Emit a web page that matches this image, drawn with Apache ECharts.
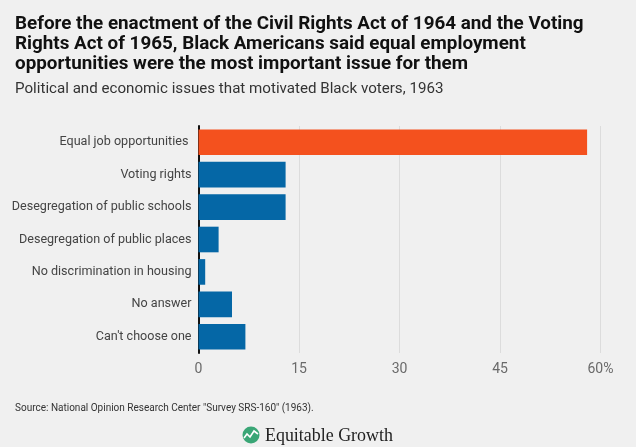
<!DOCTYPE html>
<html>
<head>
<meta charset="utf-8">
<script src="https://cdn.jsdelivr.net/npm/echarts@6/dist/echarts.min.js"></script>
<style>
html,body{margin:0;padding:0;background:#f0f0f0;}
#c{width:636px;height:447px;}
</style>
</head>
<body>
<div id="c"></div>
<script>
var categories = [
  'Equal job opportunities ',
  'Voting rights',
  'Desegregation of public schools',
  'Desegregation of public places',
  'No discrimination in housing',
  'No answer',
  "Can't choose one"
];
var values = [58, 13, 13, 3, 1, 5, 7];
var barColors = ['#f4511e', '#0567a6', '#0567a6', '#0567a6', '#0567a6', '#0567a6', '#0567a6'];
var tickValues = [0, 15, 30, 45, 60];
var tickLabels = ['0', '15', '30', '45', '60%'];
var titleLines = [
  'Before the enactment of the Civil Rights Act of 1964 and the Voting',
  'Rights Act of 1965, Black Americans said equal employment',
  'opportunities were the most important issue for them'
];
var subtitle = 'Political and economic issues that motivated Black voters, 1963';
var source = 'Source: National Opinion Research Center "Survey SRS-160" (1963).';
var brand = 'Equitable Growth';

var sans = 'Roboto, "Noto Sans", sans-serif';
var serif = '"Liberation Serif", "DejaVu Serif", serif';

// fit font size so a text reaches a target width
var ctx = document.createElement('canvas').getContext('2d');
function fit(text, weight, family, target, maxSize) {
  ctx.font = weight + ' 100px ' + family;
  var w = ctx.measureText(text).width;
  return Math.min(maxSize, 100 * target / w);
}
var titleSize = fit(titleLines[0], 'bold', sans, 569, 20);
var subSize = fit(subtitle, 'normal', sans, 429, 16);
var catSize = fit(categories[2], 'normal', sans, 180, 14);
var srcSize = fit(source, 'normal', sans, 312, 10);
var brandSize = fit(brand, 'normal', serif, 128, 19);

var chart = echarts.init(document.getElementById('c'), null, {renderer: 'canvas'});

chart.setOption({
  backgroundColor: '#f0f0f0',
  animation: false,
  title: [{
    text: titleLines.join('\n'),
    left: 15, top: 14, padding: 0,
    textStyle: {fontFamily: sans, fontWeight: 'bold', fontSize: titleSize, lineHeight: 20, color: '#111'}
  }, {
    text: subtitle,
    left: 15, top: 82, padding: 0,
    textStyle: {fontFamily: sans, fontWeight: 'normal', fontSize: subSize, color: '#333'}
  }, {
    text: source,
    left: 15, top: 403, padding: 0,
    textStyle: {fontFamily: sans, fontWeight: 'normal', fontSize: srcSize, color: '#333'}
  }, {
    text: brand,
    left: 265, top: 427, padding: 0,
    textStyle: {fontFamily: serif, fontWeight: 'normal', fontSize: brandSize, color: '#222'}
  }],
  graphic: [{
    type: 'circle', shape: {cx: 251, cy: 435, r: 8.5}, style: {fill: '#3aa676'}
  }, {
    type: 'polyline', shape: {points: [[244, 438], [247, 434], [250, 437], [254, 431], [258, 434]]},
    style: {stroke: '#ffffff', lineWidth: 1.6, fill: null}
  }],
  grid: {left: 198.5, right: 35.5, top: 126, bottom: 94, containLabel: false, outerBoundsMode: 'none'},
  xAxis: {
    type: 'value', min: 0, max: 60, interval: 15,
    axisLine: {show: false}, axisTick: {show: false},
    splitLine: {show: true, lineStyle: {color: '#dcdcdc', width: 1}},
    axisLabel: {
      color: '#6a6a6a', fontSize: 14, fontFamily: sans, margin: 9,
      formatter: function (v) { var i = tickValues.indexOf(v); return i >= 0 ? tickLabels[i] : ''; }
    }
  },
  yAxis: {
    type: 'category', data: categories, inverse: true,
    axisLine: {show: true, lineStyle: {color: '#111', width: 2}},
    axisTick: {show: false},
    axisLabel: {color: '#444', fontSize: catSize, fontFamily: sans, margin: 7}
  },
  series: [{
    type: 'bar',
    data: values.map(function (v, i) { return {value: v, itemStyle: {color: barColors[i]}}; }),
    barCategoryGap: '21%',
    z: 1
  }]
});
</script>
</body>
</html>
